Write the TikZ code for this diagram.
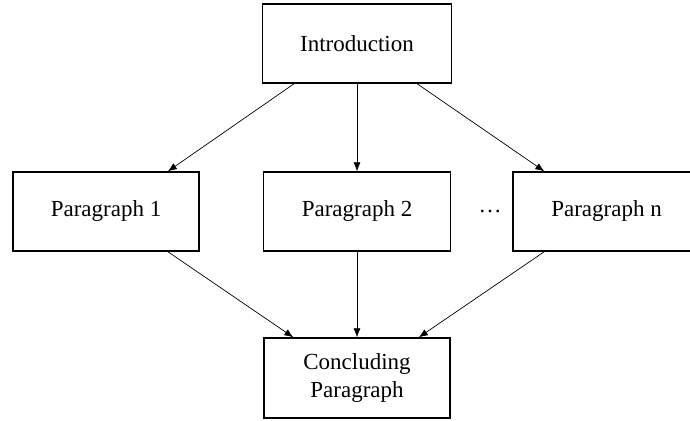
\documentclass[tikz,border=0pt]{standalone}
\usepackage{fontspec}
\setmainfont{Liberation Serif}
\usetikzlibrary{calc,arrows.meta}
\begin{document}
\begin{tikzpicture}[x=1pt,y=-1pt,
  box/.style={draw,line width=1.3pt,minimum width=187pt,minimum height=79pt,inner sep=0pt,align=center,font=\fontsize{23}{28}\selectfont},
  conn/.style={line width=0.7pt,-{Latex[length=9pt,width=7pt]}}]
\useasboundingbox (0,0) rectangle (690,420);
\clip (0,0) rectangle (690,420);
\node[box,minimum width=189pt] (intro) at (357,43.5) {Introduction};
\node[box,minimum width=186pt] (p1) at (106,211.5) {Paragraph 1};
\node[box] (p2) at (357,211.5) {Paragraph 2};
\node[box] (pn) at (606.5,211.5) {Paragraph n};
\node[font=\fontsize{23}{28}\selectfont] (dots) at (490,211.5) {\ldots};
\node[box,minimum width=186pt,minimum height=80pt] (conc) at (357,378) {Concluding\\Paragraph};
\draw[conn] ($(intro.south west)!0.17!(intro.south east)$) -- ($(p1.north west)!0.83!(p1.north east)$);
\draw[conn] (intro.south) -- (p2.north);
\draw[conn] ($(intro.south west)!0.815!(intro.south east)$) -- ($(pn.north west)!0.17!(pn.north east)$);
\draw[conn] ($(p1.south west)!0.83!(p1.south east)$) -- ($(conc.north west)!0.16!(conc.north east)$);
\draw[conn] (p2.south) -- (conc.north);
\draw[conn] ($(pn.south west)!0.17!(pn.south east)$) -- ($(conc.north west)!0.83!(conc.north east)$);
\end{tikzpicture}
\end{document}
